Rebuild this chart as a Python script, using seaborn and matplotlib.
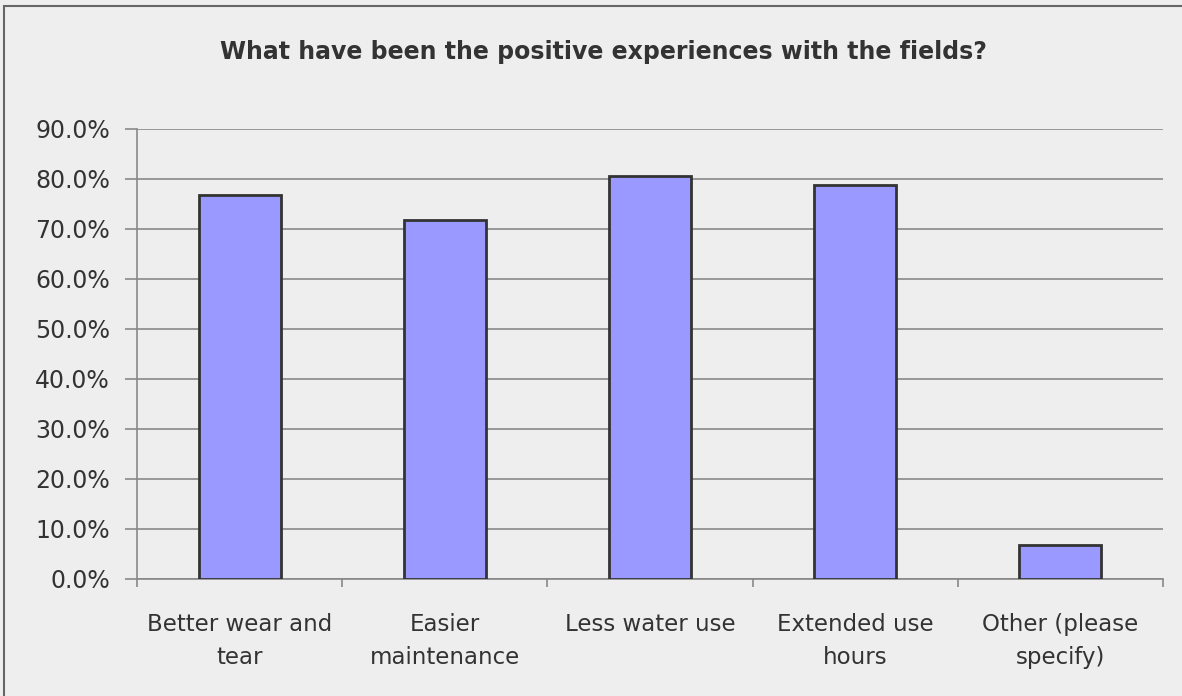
import matplotlib
matplotlib.use('Agg')
import matplotlib.pyplot as plt
import matplotlib.patches as mpatches
import numpy as np
import pandas as pd
import seaborn as sns

categories = ['Better wear and\ntear', 'Easier\nmaintenance', 'Less water use',
              'Extended use\nhours', 'Other (please\nspecify)']
values = [0.768, 0.718, 0.806, 0.787, 0.068]
yticks = [0.0, 0.1, 0.2, 0.3, 0.4, 0.5, 0.6, 0.7, 0.8, 0.9]
title = 'What have been the positive experiences with the fields?'

sns.set_style('white')
plt.rcParams['font.family'] = ['DejaVu Sans']
bg = '#eeeeee'
txt = '#333333'

df = pd.DataFrame({'cat': categories, 'val': values})

fig = plt.figure(figsize=(11.82, 6.96), dpi=100, facecolor=bg)
ax = fig.add_axes([137 / 1182, 1 - 578.5 / 696, (1163 - 137) / 1182, 450 / 696])
ax.set_facecolor(bg)

# outer frame (only left and top edges fall inside the image)
fig.patches.append(mpatches.Rectangle((4 / 1182, -0.05), 1.1, 1 - 6 / 696 + 0.05,
                                      transform=fig.transFigure, fill=False,
                                      edgecolor='#666666', linewidth=1.5, zorder=0))

sns.barplot(data=df, x='cat', y='val', color='#9999ff', saturation=1,
            width=0.4, edgecolor='#333333', linewidth=2, ax=ax, zorder=3)

ax.set_ylim(0, 0.9)
ax.set_xlim(-0.5, 4.5)
ax.set_yticks(yticks)
ax.set_yticklabels([f'{v * 100:.1f}%' for v in yticks], fontsize=17, color=txt)
ax.yaxis.grid(True, color='#888888', linewidth=1.2, zorder=0)
ax.set_axisbelow(True)

ax.set_xticks(range(len(categories)))
ax.set_xticklabels(categories, fontsize=16.5, color=txt, linespacing=1.6)
ax.set_xticks(np.arange(-0.5, 5, 1), minor=True)
ax.tick_params(axis='x', which='major', length=0, pad=24.5, bottom=True)
ax.tick_params(axis='x', which='minor', length=6, color='#888888', width=1.2,
               direction='out', bottom=True)
ax.tick_params(axis='y', length=9, color='#888888', width=1.2, direction='out',
               pad=10.5, left=True)

for s in ['top', 'right']:
    ax.spines[s].set_visible(False)
for s in ['left', 'bottom']:
    ax.spines[s].set_color('#888888')
    ax.spines[s].set_linewidth(1.2)

ax.set_xlabel('')
ax.set_ylabel('')
fig.text(603 / 1182, 1 - 52 / 696, title, ha='center', va='center',
         fontsize=17, fontweight='bold', color=txt)

fig.savefig('out.png', dpi=100, facecolor=bg)
